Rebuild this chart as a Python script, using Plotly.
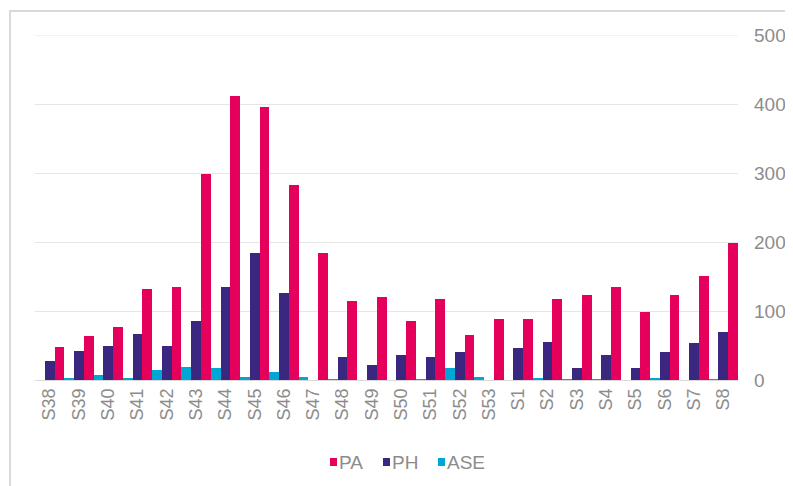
""" Weekly counts of PA, PH and ASE displayed as grouped columns """
import plotly.graph_objects as go

weeks = ['S38', 'S39', 'S40', 'S41', 'S42', 'S43', 'S44', 'S45', 'S46', 'S47', 'S48', 'S49',
         'S50', 'S51', 'S52', 'S53', 'S1', 'S2', 'S3', 'S4', 'S5', 'S6', 'S7', 'S8']
pa_values = [48, 64, 77, 132, 135, 299, 412, 395, 283, 184, 114, 121,
             85, 118, 65, 88, 88, 118, 123, 135, 98, 123, 151, 198]
ph_values = [27, 42, 50, 66, 50, 86, 135, 184, 126, 0, 34, 22,
             36, 33, 40, 0, 47, 55, 17, 36, 17, 40, 54, 69]
ase_values = [0, 3, 7, 3, 15, 19, 17, 5, 11, 5, 1, 0,
              0, 1, 17, 5, 0, 3, 1, 1, 0, 3, 0, 1]

series_names = ['PA', 'PH', 'ASE']
series_colors = {'PA': '#e4005b', 'PH': '#3c2780', 'ASE': '#00a6d6'}

GRAY = '#8c8c8c'
FONT = 'Liberation Sans, Arial, sans-serif'

# the page body adds 8px around the div, so the figure is a bit smaller than the window
W, H = 785, 478
ML, MR, MT, MB = 27, 55, 27, 106
PW, PH_ = W - ML - MR, H - MT - MB


def px_to_paper(x=None, y=None):
    """ window pixel -> paper coordinates """
    if x is not None:
        return (x - 8 - ML) / PW
    return (MT + PH_ - (y - 8)) / PH_


fig = go.Figure()
# Bars are drawn ASE / PH / PA inside each week
fig.add_trace(go.Bar(x=weeks, y=ase_values, name='ASE', marker={'color': series_colors['ASE'], 'line': {'width': 0}}))
fig.add_trace(go.Bar(x=weeks, y=ph_values, name='PH', marker={'color': series_colors['PH'], 'line': {'width': 0}}))
fig.add_trace(go.Bar(x=weeks, y=pa_values, name='PA', marker={'color': series_colors['PA'], 'line': {'width': 0}}))

fig.update_layout(
    width=W,
    height=H,
    margin={'l': ML, 'r': MR, 't': MT, 'b': MB},
    paper_bgcolor='white',
    plot_bgcolor='white',
    barmode='group',
    bargap=0,
    bargroupgap=0,
    font={'family': FONT, 'size': 19, 'color': GRAY},
    xaxis={
        'tickangle': -90,
        'tickfont': {'size': 18, 'color': GRAY},
        'showgrid': False,
        'showline': False,
        'ticks': '',
        'ticklabelstandoff': 4,
        'automargin': False,
    },
    yaxis={
        'side': 'right',
        'range': [0, 500],
        'dtick': 100,
        'tickfont': {'size': 19, 'color': GRAY},
        'gridcolor': '#e6e6e6',
        'gridwidth': 1,
        'zeroline': True,
        'zerolinecolor': '#d9d9d9',
        'zerolinewidth': 1,
        'ticks': '',
        'ticklabelstandoff': 15,
        'automargin': False,
    },
    showlegend=False,
)

# top gridline (plotly drops the one sitting on the plot edge)
fig.add_shape(type='line', xref='paper', yref='y', x0=0, x1=1, y0=500, y1=500,
              line={'color': '#e6e6e6', 'width': 1}, layer='below')

# legend drawn by hand: small square + label, tight like the original
legend_marker_x = [330, 383, 438]
for name, mx in zip(series_names, legend_marker_x):
    fig.add_shape(type='rect', xref='paper', yref='paper',
                  x0=px_to_paper(x=mx), x1=px_to_paper(x=mx + 7),
                  y0=px_to_paper(y=466), y1=px_to_paper(y=458),
                  fillcolor=series_colors[name], line={'width': 0})
    fig.add_annotation(x=px_to_paper(x=mx + 7), y=px_to_paper(y=462),
                       xref='paper', yref='paper', xanchor='left', yanchor='middle',
                       text=name, showarrow=False,
                       font={'size': 19, 'color': GRAY})

# light grey frame around the chart (only left and top show in the window)
fig.add_shape(type='rect', xref='paper', yref='paper',
              x0=px_to_paper(x=10), x1=1.2, y0=-0.5, y1=px_to_paper(y=11),
              line={'color': '#d9d9d9', 'width': 2}, layer='below')

fig.write_html('out.html')
